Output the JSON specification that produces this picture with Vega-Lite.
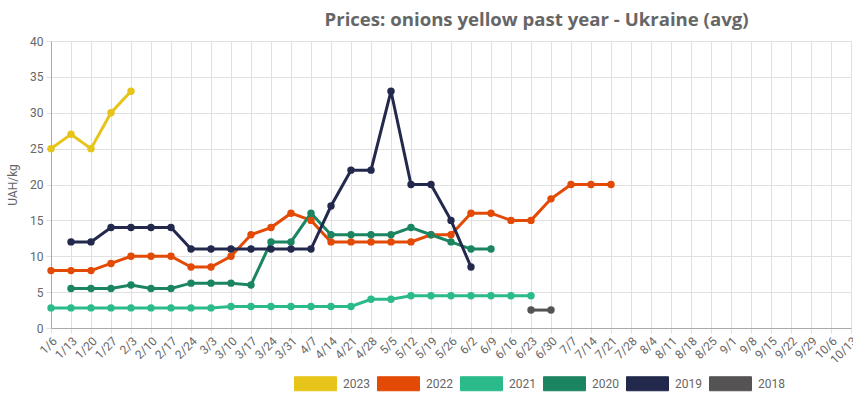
{
  "$schema": "https://vega.github.io/schema/vega-lite/v6.json",
  "autosize": "none",
  "width": 800,
  "height": 287,
  "padding": {"left": 51, "top": 41, "right": 2, "bottom": 71},
  "background": "white",
  "config": {
    "font": "Roboto",
    "view": {"stroke": null},
    "axis": {"labelColor": "#666666", "labelFontSize": 12, "gridColor": "#e0e0e0", "tickColor": "#e0e0e0", "domainColor": "#aaaaaa", "titleColor": "#666666"}
  },
  "title": {"text": "Prices: onions yellow past year - Ukraine (avg)", "font": "Open Sans", "fontSize": 18.6, "fontWeight": "bold", "color": "#666666", "anchor": "start", "dx": 318, "offset": 5},
  "data": {"values": [
    {"week": "1/6", "year": "2023", "price": 25},
    {"week": "1/13", "year": "2023", "price": 27},
    {"week": "1/20", "year": "2023", "price": 25},
    {"week": "1/27", "year": "2023", "price": 30},
    {"week": "2/3", "year": "2023", "price": 33},

    {"week": "1/6", "year": "2022", "price": 8},
    {"week": "1/13", "year": "2022", "price": 8},
    {"week": "1/20", "year": "2022", "price": 8},
    {"week": "1/27", "year": "2022", "price": 9},
    {"week": "2/3", "year": "2022", "price": 10},
    {"week": "2/10", "year": "2022", "price": 10},
    {"week": "2/17", "year": "2022", "price": 10},
    {"week": "2/24", "year": "2022", "price": 8.5},
    {"week": "3/3", "year": "2022", "price": 8.5},
    {"week": "3/10", "year": "2022", "price": 10},
    {"week": "3/17", "year": "2022", "price": 13},
    {"week": "3/24", "year": "2022", "price": 14},
    {"week": "3/31", "year": "2022", "price": 16},
    {"week": "4/7", "year": "2022", "price": 15},
    {"week": "4/14", "year": "2022", "price": 12},
    {"week": "4/21", "year": "2022", "price": 12},
    {"week": "4/28", "year": "2022", "price": 12},
    {"week": "5/5", "year": "2022", "price": 12},
    {"week": "5/12", "year": "2022", "price": 12},
    {"week": "5/19", "year": "2022", "price": 13},
    {"week": "5/26", "year": "2022", "price": 13},
    {"week": "6/2", "year": "2022", "price": 16},
    {"week": "6/9", "year": "2022", "price": 16},
    {"week": "6/16", "year": "2022", "price": 15},
    {"week": "6/23", "year": "2022", "price": 15},
    {"week": "6/30", "year": "2022", "price": 18},
    {"week": "7/7", "year": "2022", "price": 20},
    {"week": "7/14", "year": "2022", "price": 20},
    {"week": "7/21", "year": "2022", "price": 20},

    {"week": "1/6", "year": "2021", "price": 2.8},
    {"week": "1/13", "year": "2021", "price": 2.8},
    {"week": "1/20", "year": "2021", "price": 2.8},
    {"week": "1/27", "year": "2021", "price": 2.8},
    {"week": "2/3", "year": "2021", "price": 2.8},
    {"week": "2/10", "year": "2021", "price": 2.8},
    {"week": "2/17", "year": "2021", "price": 2.8},
    {"week": "2/24", "year": "2021", "price": 2.8},
    {"week": "3/3", "year": "2021", "price": 2.8},
    {"week": "3/10", "year": "2021", "price": 3},
    {"week": "3/17", "year": "2021", "price": 3},
    {"week": "3/24", "year": "2021", "price": 3},
    {"week": "3/31", "year": "2021", "price": 3},
    {"week": "4/7", "year": "2021", "price": 3},
    {"week": "4/14", "year": "2021", "price": 3},
    {"week": "4/21", "year": "2021", "price": 3},
    {"week": "4/28", "year": "2021", "price": 4},
    {"week": "5/5", "year": "2021", "price": 4},
    {"week": "5/12", "year": "2021", "price": 4.5},
    {"week": "5/19", "year": "2021", "price": 4.5},
    {"week": "5/26", "year": "2021", "price": 4.5},
    {"week": "6/2", "year": "2021", "price": 4.5},
    {"week": "6/9", "year": "2021", "price": 4.5},
    {"week": "6/16", "year": "2021", "price": 4.5},
    {"week": "6/23", "year": "2021", "price": 4.5},

    {"week": "1/13", "year": "2020", "price": 5.5},
    {"week": "1/20", "year": "2020", "price": 5.5},
    {"week": "1/27", "year": "2020", "price": 5.5},
    {"week": "2/3", "year": "2020", "price": 6},
    {"week": "2/10", "year": "2020", "price": 5.5},
    {"week": "2/17", "year": "2020", "price": 5.5},
    {"week": "2/24", "year": "2020", "price": 6.25},
    {"week": "3/3", "year": "2020", "price": 6.25},
    {"week": "3/10", "year": "2020", "price": 6.25},
    {"week": "3/17", "year": "2020", "price": 6},
    {"week": "3/24", "year": "2020", "price": 12},
    {"week": "3/31", "year": "2020", "price": 12},
    {"week": "4/7", "year": "2020", "price": 16},
    {"week": "4/14", "year": "2020", "price": 13},
    {"week": "4/21", "year": "2020", "price": 13},
    {"week": "4/28", "year": "2020", "price": 13},
    {"week": "5/5", "year": "2020", "price": 13},
    {"week": "5/12", "year": "2020", "price": 14},
    {"week": "5/19", "year": "2020", "price": 13},
    {"week": "5/26", "year": "2020", "price": 12},
    {"week": "6/2", "year": "2020", "price": 11},
    {"week": "6/9", "year": "2020", "price": 11},

    {"week": "1/13", "year": "2019", "price": 12},
    {"week": "1/20", "year": "2019", "price": 12},
    {"week": "1/27", "year": "2019", "price": 14},
    {"week": "2/3", "year": "2019", "price": 14},
    {"week": "2/10", "year": "2019", "price": 14},
    {"week": "2/17", "year": "2019", "price": 14},
    {"week": "2/24", "year": "2019", "price": 11},
    {"week": "3/3", "year": "2019", "price": 11},
    {"week": "3/10", "year": "2019", "price": 11},
    {"week": "3/17", "year": "2019", "price": 11},
    {"week": "3/24", "year": "2019", "price": 11},
    {"week": "3/31", "year": "2019", "price": 11},
    {"week": "4/7", "year": "2019", "price": 11},
    {"week": "4/14", "year": "2019", "price": 17},
    {"week": "4/21", "year": "2019", "price": 22},
    {"week": "4/28", "year": "2019", "price": 22},
    {"week": "5/5", "year": "2019", "price": 33},
    {"week": "5/12", "year": "2019", "price": 20},
    {"week": "5/19", "year": "2019", "price": 20},
    {"week": "5/26", "year": "2019", "price": 15},
    {"week": "6/2", "year": "2019", "price": 8.5},

    {"week": "6/23", "year": "2018", "price": 2.5},
    {"week": "6/30", "year": "2018", "price": 2.5}
  ]},
  "encoding": {
    "x": {
      "field": "week", "type": "ordinal",
      "scale": {"type": "point", "padding": 0, "domain": ["1/6","1/13","1/20","1/27","2/3","2/10","2/17","2/24","3/3","3/10","3/17","3/24","3/31","4/7","4/14","4/21","4/28","5/5","5/12","5/19","5/26","6/2","6/9","6/16","6/23","6/30","7/7","7/14","7/21","7/28","8/4","8/11","8/18","8/25","9/1","9/8","9/15","9/22","9/29","10/6","10/13"]},
      "axis": {"title": null, "labelAngle": -45, "labelAlign": "right", "labelBaseline": "top", "labelPadding": 2, "tickSize": 5, "grid": true, "labelOverlap": false, "labelFontSize": 12}
    },
    "y": {
      "field": "price", "type": "quantitative",
      "scale": {"domain": [0, 40], "nice": false},
      "axis": {"title": "UAH/kg", "titleFontSize": 12, "titleFontWeight": "normal", "titlePadding": 10, "values": [0,5,10,15,20,25,30,35,40], "labelOverlap": false, "tickSize": 5, "labelPadding": 3}
    },
    "color": {
      "field": "year", "type": "nominal",
      "scale": {"domain": ["2023","2022","2021","2020","2019","2018"], "range": ["#e6c419","#e24a06","#2bbb8a","#1b8561","#23294d","#555354"]},
      "legend": {
        "title": null, "orient": "none", "legendX": 250, "legendY": 328, "direction": "horizontal", "columns": 6,
        "symbolType": "M-1.5,-0.5H1.5V0.5H-1.5Z", "symbolSize": 784, "symbolStrokeWidth": 1,
        "labelFontSize": 12, "labelColor": "#666666", "labelOffset": 13, "columnPadding": 5,
        "encode": {"symbols": {"update": {"fill": {"scale": "color", "field": "value"}, "opacity": {"value": 1}, "fillOpacity": {"value": 1}}}}
      }
    }
  },
  "layer": [
    {"mark": {"type": "line", "strokeWidth": 3}},
    {"mark": {"type": "point", "filled": true, "size": 55, "opacity": 1}}
  ]
}
